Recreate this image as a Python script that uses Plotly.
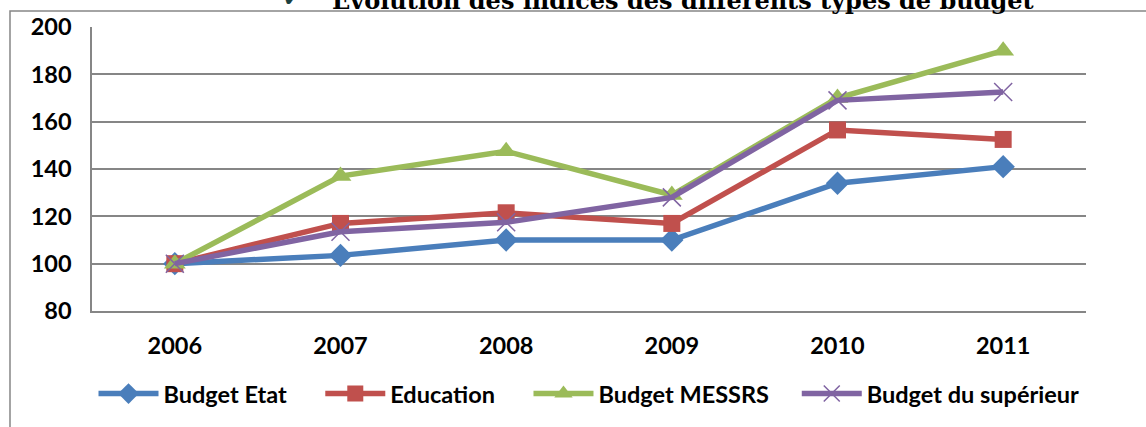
import plotly.graph_objects as go

annees = ["2006", "2007", "2008", "2009", "2010", "2011"]

budget_etat = [100, 103.5, 110, 110, 134, 141]
education = [100, 117, 121.5, 117, 156.5, 152.5]
budget_messrs = [100, 137, 147.5, 129, 170, 190]
budget_superieur = [100, 113.5, 117.5, 128, 169, 172.5]

titre = "Evolution des indices des différents types de budget"

# nom, valeurs, couleur, symbole, taille, espace après dans la légende
series = [
    ("Budget Etat", budget_etat, "#4A7EBB", "diamond", 18, 5),
    ("Education", education, "#C0504D", "square", 17, 5),
    ("Budget MESSRS", budget_messrs, "#9BBB59", "triangle-up", 19, 4),
    ("Budget du supérieur", budget_superieur, "#8064A2", "x-thin", 18, 0),
]

fig = go.Figure()

for nom, valeurs, couleur, symbole, taille, pad in series:
    marker = dict(symbol=symbole, size=taille, color=couleur)
    if symbole == "x-thin":
        marker["line"] = dict(color=couleur, width=1.5)
    fig.add_trace(
        go.Scatter(
            x=annees,
            y=valeurs,
            mode="lines+markers",
            name=nom + "\u00a0" * pad,
            line=dict(color=couleur, width=5.5),
            marker=marker,
        )
    )

police = dict(family="Lato", size=23.5, color="#000000", weight="bold")

fig.update_layout(
    width=1146,
    height=427,
    margin=dict(l=92, r=60, t=27, b=115),
    paper_bgcolor="white",
    plot_bgcolor="white",
    showlegend=True,
    legend=dict(
        orientation="h",
        x=0.5,
        xanchor="center",
        y=-0.287,
        yanchor="middle",
        font=police,
        itemwidth=60,
        traceorder="normal",
    ),
    xaxis=dict(
        type="category",
        showgrid=False,
        showline=True,
        linecolor="#868686",
        linewidth=1.5,
        tickfont=police,
        ticks="",
        ticklabelstandoff=13,
        range=[-0.5, 5.5],
    ),
    yaxis=dict(
        range=[80, 200],
        dtick=20,
        showgrid=True,
        gridcolor="#868686",
        gridwidth=1.5,
        showline=True,
        linecolor="#868686",
        linewidth=1.5,
        zeroline=False,
        tickfont=police,
        ticks="",
        ticklabelstandoff=14,
    ),
    shapes=[
        dict(
            type="rect",
            xref="paper",
            yref="paper",
            x0=-0.0825,
            x1=1.2,
            y0=-0.6,
            y1=1.056,
            line=dict(color="#868686", width=1.5),
            fillcolor="rgba(0,0,0,0)",
            layer="below",
        )
    ],
    annotations=[
        dict(
            text=titre,
            xref="paper",
            yref="paper",
            x=0.2394,
            y=1.093,
            xanchor="left",
            yanchor="middle",
            showarrow=False,
            font=dict(family="DejaVu Serif", size=24, color="#000000", weight="bold"),
        ),
        dict(
            text="✔",
            xref="paper",
            yref="paper",
            x=0.2012,
            y=1.1,
            xanchor="center",
            yanchor="middle",
            showarrow=False,
            font=dict(family="DejaVu Sans", size=22, color="#1b4040"),
        ),
    ],
)

fig.write_html(
    "out.html",
    config={"displayModeBar": False},
    post_script="document.body.style.margin='0px';",
)
